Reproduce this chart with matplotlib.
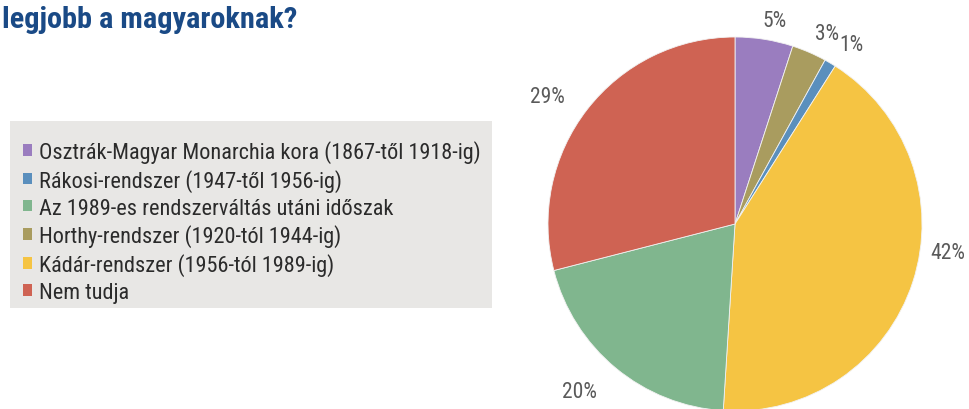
import matplotlib
matplotlib.use("Agg")
import numpy as np
import matplotlib.pyplot as plt
from matplotlib.patches import Patch, Rectangle
from matplotlib import font_manager

# ---- data ----
pie_labels = ["Osztrák-Magyar Monarchia kora (1867-től 1918-ig)",
              "Horthy-rendszer (1920-tól 1944-ig)",
              "Rákosi-rendszer (1947-től 1956-ig)",
              "Kádár-rendszer (1956-tól 1989-ig)",
              "Az 1989-es rendszerváltás utáni időszak",
              "Nem tudja"]
pie_values = [5, 3, 1, 42, 20, 29]
pie_colors = ["#9a7dbf", "#a99c5f", "#5a8fbd", "#f5c443", "#80b68e", "#cf6353"]
legend_order = [0, 2, 4, 1, 3, 5]
title_text = "legjobb a magyaroknak?"

# label placement style (radial distance in radii, angular nudge in degrees)
label_dist = [1.107, 1.13, 1.145, 1.15, 1.22, 1.21]
label_nudge = [-2.0, -2.4, -2.2, 10.5, -3.3, 3.6]

names = {f.name for f in font_manager.fontManager.ttflist}
fam = "Roboto"
for cand in ["Roboto Condensed", "Liberation Sans Narrow", "Roboto"]:
    if cand in names:
        fam = cand
        break
plt.rcParams["font.family"] = [fam, "DejaVu Sans"]

W, H = 969, 410
fig = plt.figure(figsize=(W / 100, H / 100), dpi=100)
fig.patch.set_facecolor("white")
renderer = fig.canvas.get_renderer()


def fit_size(text, target_px, base=14, **kw):
    t = fig.text(0, 0, text, fontsize=base, **kw)
    w = t.get_window_extent(renderer).width
    t.remove()
    return base * target_px / w


# pie axes: center (735,225) px from top-left, radius 187 px
cx, cy, r = 735, 225, 187
ax = fig.add_axes([(cx - r) / W, (H - cy - r) / H, 2 * r / W, 2 * r / H])
wedges, texts, autotexts = ax.pie(
    pie_values, colors=pie_colors, startangle=90, counterclock=False,
    radius=1, autopct=lambda p: f"{p:.0f}%", pctdistance=1.15,
    wedgeprops=dict(edgecolor="#f2f2f2", linewidth=0.6),
    textprops=dict(color="#5a5a5a", fontsize=fit_size("29%", 35)))
ax.set_xlim(-1, 1)
ax.set_ylim(-1, 1)
ax.set_aspect("auto")
ax.axis("off")

for w, t, d, nd in zip(wedges, autotexts, label_dist, label_nudge):
    t.set_clip_on(False)
    th = np.deg2rad((w.theta1 + w.theta2) / 2 + nd)
    t.set_position((d * np.cos(th), d * np.sin(th)))
    t.set_ha("center")
    t.set_va("center")

# title (cropped in the reference)
tsize = fit_size(title_text, 298, fontweight="bold")
fig.text(2 / W, 1 - 20 / H, title_text, fontsize=tsize, fontweight="bold",
         color="#1a4a86", ha="left", va="center")

# legend background
fig.patches.append(Rectangle((10 / W, 1 - 309 / H), 482 / W, 187 / H,
                             transform=fig.transFigure, facecolor="#e8e7e5",
                             edgecolor="none", zorder=0))
lsize = fit_size(pie_labels[0], 443)
handles = [Patch(facecolor=pie_colors[i], edgecolor="none") for i in legend_order]
labels = [pie_labels[i] for i in legend_order]
leg = fig.legend(handles, labels, loc="upper left",
                 bbox_to_anchor=(23 / W, 1 - 141 / H), frameon=False,
                 fontsize=lsize, handlelength=0.42, handleheight=0.42,
                 handletextpad=0.3, labelspacing=0.26, borderpad=0,
                 borderaxespad=0)
for t in leg.get_texts():
    t.set_color("#2b2b2b")

fig.savefig("out.png", dpi=100)
